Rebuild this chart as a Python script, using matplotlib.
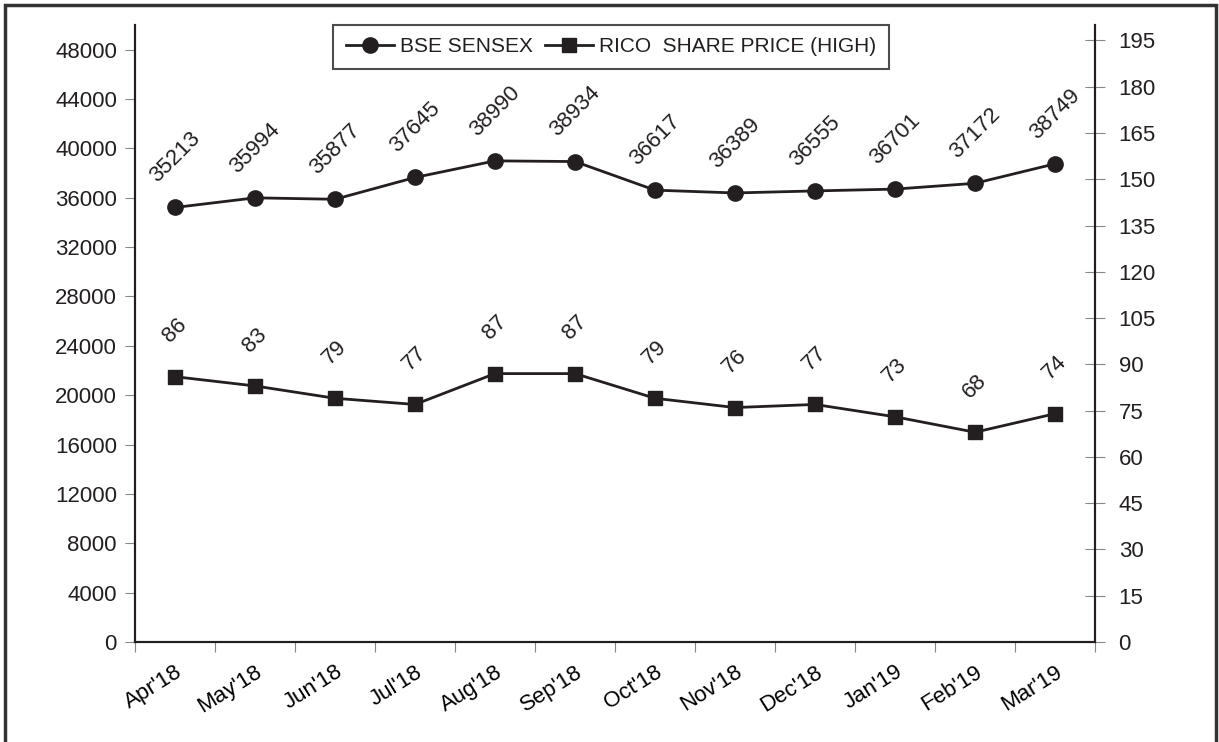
import numpy as np
import matplotlib.pyplot as plt
from matplotlib.patches import Rectangle

months = ["Apr'18", "May'18", "Jun'18", "Jul'18", "Aug'18", "Sep'18",
          "Oct'18", "Nov'18", "Dec'18", "Jan'19", "Feb'19", "Mar'19"]
sensex = [35213, 35994, 35877, 37645, 38990, 38934,
          36617, 36389, 36555, 36701, 37172, 38749]
rico_high = [86, 83, 79, 77, 87, 87, 79, 76, 77, 73, 68, 74]

ink = '#231f20'
plt.rcParams['font.family'] = ['Liberation Sans', 'DejaVu Sans']
plt.rcParams['font.size'] = 16
plt.rcParams['text.color'] = ink

fig = plt.figure(figsize=(12.19, 7.42), dpi=100)
ax = fig.add_axes([135 / 1219, 1 - 642 / 742, 960 / 1219, 617 / 742])
ax2 = ax.twinx()

x = np.arange(len(months))

# sensex on the left axis
line1, = ax.plot(x, sensex, '-o', color=ink, lw=2, ms=11, label='BSE SENSEX')
for xi, v in zip(x, sensex):
    ax.annotate(str(v), (xi, v), xytext=(0, 50), textcoords='offset pixels',
                rotation=45, ha='center', va='center', color=ink)

# rico on the right axis
line2, = ax2.plot(x, rico_high, '-s', color=ink, lw=2, ms=10,
                  label='RICO  SHARE PRICE (HIGH)')
for xi, v in zip(x, rico_high):
    ax2.annotate(str(v), (xi, v), xytext=(0, 46), textcoords='offset pixels',
                 rotation=45, ha='center', va='center', color=ink)

ax.set_xlim(-0.5, len(months) - 0.5)
ax.set_ylim(0, 50000)
ax2.set_ylim(0, 200)
ax.set_yticks(np.arange(0, 48001, 4000))
ax2.set_yticks(np.arange(0, 196, 15))

# ticks at category edges, labels at centres
ax.set_xticks(np.arange(-0.5, len(months), 1.0))
ax.set_xticklabels([])
ax.set_xticks(x, minor=True)
ax.set_xticklabels(months, minor=True, rotation=32, ha='right',
                   rotation_mode='anchor', va='top')
ax.tick_params(axis='x', which='minor', length=0, pad=14)
ax.tick_params(axis='x', which='major', length=7, color='#888888')
ax.tick_params(axis='y', length=7, color='#888888', pad=6, labelcolor=ink)
ax2.tick_params(axis='y', length=14, direction='inout', color='#888888',
                pad=10, labelcolor=ink)

for a in (ax, ax2):
    a.spines['top'].set_visible(False)
    for s in ('left', 'right', 'bottom'):
        a.spines[s].set_color(ink)
        a.spines[s].set_linewidth(1.5)

leg = ax.legend([line1, line2], [line1.get_label(), line2.get_label()],
                loc='upper center', bbox_to_anchor=(0.496, 1.0), ncol=2,
                borderaxespad=0, frameon=True, fancybox=False, fontsize=15,
                handlelength=2.3, handletextpad=0.3, columnspacing=0.6,
                borderpad=0.6)
leg.get_frame().set_edgecolor(ink)
leg.get_frame().set_linewidth(1.5)
leg.set_zorder(5)

# outer frame round the whole picture
fig.patches.append(Rectangle((5 / 1219, -0.01), 1211 / 1219, 1 - 5 / 742 + 0.01,
                             transform=fig.transFigure, fill=False,
                             edgecolor='#333333', linewidth=2.5))

fig.savefig('out.png', dpi=100)
